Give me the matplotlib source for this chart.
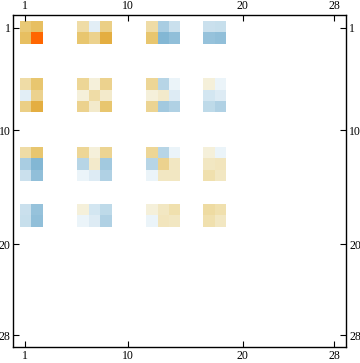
import matplotlib
matplotlib.use("Agg")
import numpy as np
import matplotlib.pyplot as plt
from matplotlib.colors import LinearSegmentedColormap

# rows/columns (1-based) that carry non-zero entries
idx = [1, 2, 6, 7, 8, 12, 13, 14, 17, 18]

# symmetric block of values, ordered as idx
values = [
    [0.26, 0.32, 0.13, -0.04, 0.21, 0.13, -0.16, -0.09, -0.09, -0.095],
    [0.32, 1.00, 0.28, 0.19, 0.40, 0.28, -0.24, -0.21, -0.20, -0.21],
    [0.13, 0.28, 0.17, 0.02, 0.19, 0.17, -0.13, -0.02, 0.02, -0.02],
    [-0.04, 0.19, 0.02, 0.13, 0.05, 0.02, 0.05, -0.05, -0.07, -0.05],
    [0.21, 0.40, 0.19, 0.05, 0.28, 0.18, -0.175, -0.145, -0.115, -0.145],
    [0.13, 0.28, 0.17, 0.02, 0.18, 0.17, -0.13, -0.02, 0.02, -0.02],
    [-0.16, -0.24, -0.13, 0.05, -0.175, -0.13, 0.19, 0.07, 0.07, 0.08],
    [-0.09, -0.21, -0.02, -0.05, -0.145, -0.02, 0.07, 0.07, 0.11, 0.07],
    [-0.09, -0.20, 0.02, -0.07, -0.115, 0.02, 0.07, 0.11, 0.14, 0.11],
    [-0.095, -0.21, -0.02, -0.05, -0.145, -0.02, 0.08, 0.07, 0.11, 0.07],
]

N = 28
tick_vals = [1, 10, 20, 28]

M = np.zeros((N, N))
for i, r in enumerate(idx):
    for j, c in enumerate(idx):
        M[r - 1, c - 1] = values[i][j]
M = np.ma.masked_equal(M, 0.0)  # zeros drawn white

# blue - white - gold - orange, Mathematica-like
nodes = [
    (-1.0, "#3A7FB5"),
    (-0.25, "#7FB5D3"),
    (-0.01, "#F0F7FB"),
    (0.0, "#FFFFFF"),
    (0.01, "#F6F2E0"),
    (0.1, "#F1E2B3"),
    (0.2, "#ECD18A"),
    (0.3, "#E8C469"),
    (0.4, "#E4AF42"),
    (1.0, "#FF6600"),
]
cmap = LinearSegmentedColormap.from_list(
    "mma", [((v + 1) / 2, c) for v, c in nodes], N=2048
)
cmap.set_bad("white")

fig = plt.figure(figsize=(3.6, 3.63), dpi=100)
ax = fig.add_axes([0.037, 0.0433, 0.925, 0.9154])
ax.imshow(M, cmap=cmap, vmin=-1, vmax=1, interpolation="nearest",
          extent=(0.5, N + 0.5, N + 0.5, 0.5), aspect="auto")
ax.set_xlim(-0.05, 29.05)
ax.set_ylim(29.05, -0.1)

ax.set_xticks(tick_vals)
ax.set_yticks(tick_vals)
ax.set_xticklabels([str(t) for t in tick_vals])
ax.set_yticklabels([str(t) for t in tick_vals])
ax.tick_params(direction="in", length=4, width=0.8, colors="black",
               labelsize=8.5, pad=2,
               top=True, right=True, labeltop=True, labelright=True)
for lab in ax.get_xticklabels() + ax.get_yticklabels():
    lab.set_family("Liberation Serif")
for s in ax.spines.values():
    s.set_linewidth(1.0)

fig.savefig("out.png", dpi=100)
